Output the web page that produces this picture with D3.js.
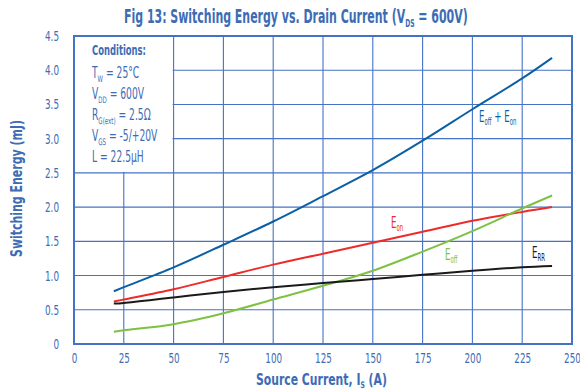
<!DOCTYPE html>
<html>
<head>
<script src="https://d3js.org/d3.v7.min.js"></script>
<style>
  body { margin: 0; background: #fff; }
  text { font-family: "DejaVu Sans Condensed", "DejaVu Sans", sans-serif; }
</style>
</head>
<body>
<div id="chart"></div>
<script>
  // source current (A)
  let current = [20, 25, 50, 75, 100, 125, 150, 175, 200, 225, 240];
  let eTotal = [0.77, 0.83, 1.12, 1.45, 1.79, 2.16, 2.54, 2.97, 3.43, 3.88, 4.18];
  let eOn = [0.62, 0.65, 0.80, 0.98, 1.16, 1.32, 1.48, 1.64, 1.80, 1.93, 2.00];
  let eOff = [0.18, 0.20, 0.29, 0.45, 0.65, 0.85, 1.07, 1.35, 1.65, 1.98, 2.17];
  let eRR = [0.59, 0.60, 0.68, 0.76, 0.83, 0.89, 0.95, 1.01, 1.07, 1.12, 1.14];
  let xTicks = [0, 25, 50, 75, 100, 125, 150, 175, 200, 225, 250];
  let yTicks = [0, 0.5, 1.0, 1.5, 2.0, 2.5, 3.0, 3.5, 4.0, 4.5];
  let conditions = [
    ["T", "W", " = 25°C"],
    ["V", "DD", " = 600V"],
    ["R", "G(ext)", " = 2.5Ω"],
    ["V", "GS", " = -5/+20V"],
    ["L", "", " = 22.5µH"]
  ];

  let width = 580, height = 392;
  let mLeft = 74, mRight = 572, mTop = 36, mBottom = 344;
  let blue = "#4472c4", textBlue = "#3d6cb5";
  let narrow = 0.7;   // reference font is much narrower than DejaVu Condensed

  let x = d3.scaleLinear().domain([0, 250]).range([mLeft, mRight]);
  let y = d3.scaleLinear().domain([0, 4.5]).range([mBottom, mTop]);

  let svg = d3.select("#chart").append("svg")
    .attr("width", width)
    .attr("height", height);

  // text with subscripts, squeezed horizontally
  function richText(parent, px, py, parts, opts) {
    let t = parent.append("text")
      .attr("fill", opts.color || textBlue)
      .attr("font-size", opts.size)
      .attr("font-weight", opts.bold ? "bold" : "normal")
      .attr("text-anchor", opts.anchor || "start");
    let shift = 0;
    parts.forEach(p => {
      if (p.sub) {
        t.append("tspan").attr("font-size", opts.subSize).attr("dy", opts.subShift - shift).text(p.sub);
        shift = opts.subShift;
      } else {
        let s = t.append("tspan").text(p.t);
        if (shift) s.attr("dy", -shift);
        shift = 0;
      }
    });
    let sx = opts.fit ? opts.fit / t.node().getBBox().width : (opts.sx || narrow);
    t.attr("transform", `translate(${px},${py})${opts.rotate ? " rotate(-90)" : ""} scale(${sx},1)`);
    return t;
  }

  // grid
  svg.append("g")
    .selectAll("line")
    .data(xTicks.slice(1, -1))
    .join("line")
    .attr("x1", d => x(d)).attr("x2", d => x(d))
    .attr("y1", mTop).attr("y2", mBottom)
    .attr("stroke", blue).attr("stroke-width", 1.1);
  svg.append("g")
    .selectAll("line")
    .data(yTicks.slice(1, -1))
    .join("line")
    .attr("x1", mLeft).attr("x2", mRight)
    .attr("y1", d => y(d)).attr("y2", d => y(d))
    .attr("stroke", blue).attr("stroke-width", 1.1);

  // conditions box covers the grid in the corner
  svg.append("rect")
    .attr("x", mLeft)
    .attr("y", mTop)
    .attr("width", x(50) - mLeft - 1)
    .attr("height", y(2.5) - mTop - 1)
    .attr("fill", "#fff");

  svg.append("rect")
    .attr("x", mLeft).attr("y", mTop)
    .attr("width", mRight - mLeft).attr("height", mBottom - mTop)
    .attr("fill", "none").attr("stroke", blue).attr("stroke-width", 2);

  // axes
  svg.append("g")
    .attr("transform", `translate(0,${mBottom})`)
    .call(d3.axisBottom(x).tickValues(xTicks).tickSize(0).tickPadding(9))
    .call(g => g.select(".domain").remove())
    .selectAll("text")
    .attr("fill", textBlue).attr("font-size", 14)
    .attr("transform", `scale(${narrow},1)`);

  svg.append("g")
    .attr("transform", `translate(${mLeft - 15},0)`)
    .call(d3.axisLeft(y).tickValues(yTicks).tickSize(0).tickPadding(0)
      .tickFormat(d => d === 0 ? "0" : d3.format(".1f")(d)))
    .call(g => g.select(".domain").remove())
    .selectAll("text")
    .attr("fill", textBlue).attr("font-size", 14)
    .attr("transform", `scale(${narrow},1)`);

  // titles
  richText(svg, 124, 23,
    [{ t: "Fig 13: Switching Energy vs. Drain Current (V" }, { sub: "DS" }, { t: " = 600V)" }],
    { size: 20, bold: true, subSize: 11, subShift: 4, fit: 344 });

  richText(svg, 256, 385,
    [{ t: "Source Current, I" }, { sub: "S" }, { t: " (A)" }],
    { size: 16, bold: true, subSize: 9, subShift: 3, fit: 131 });

  richText(svg, 22, 257,
    [{ t: "Switching Energy (mJ)" }],
    { size: 16, bold: true, rotate: true, fit: 137 });

  // conditions
  richText(svg, 92, 55, [{ t: "Conditions:" }], { size: 14, bold: true, fit: 54 });
  conditions.forEach((c, i) => {
    let parts = [{ t: c[0] }];
    if (c[1]) parts.push({ sub: c[1] });
    parts.push({ t: c[2] });
    richText(svg, 92, 78 + i * 21, parts, { size: 15, subSize: 9, subShift: 4, sx: 0.68 });
  });

  // curves
  let series = [
    { name: "Eoff+Eon", values: eTotal, color: "#0b5fa5" },
    { name: "Eon", values: eOn, color: "#ee2b2b" },
    { name: "Eoff", values: eOff, color: "#7dc242" },
    { name: "ERR", values: eRR, color: "#1a1a1a" }
  ];
  let line = d3.line()
    .curve(d3.curveCatmullRom.alpha(0.5))
    .x((d, i) => x(current[i]))
    .y(d => y(d));
  svg.append("g")
    .selectAll("path")
    .data(series)
    .join("path")
    .attr("fill", "none")
    .attr("stroke", d => d.color)
    .attr("stroke-width", 2)
    .attr("d", d => line(d.values));

  // curve labels
  let lab = { size: 16, subSize: 10, subShift: 3, sx: 0.6 };
  richText(svg, 479, 122, [{ t: "E" }, { sub: "off" }, { t: " + E" }, { sub: "on" }],
    Object.assign({ color: "#0b5fa5" }, lab));
  richText(svg, 391, 228, [{ t: "E" }, { sub: "on" }], Object.assign({ color: "#ee2b2b" }, lab));
  richText(svg, 445, 260, [{ t: "E" }, { sub: "off" }], Object.assign({ color: "#7dc242" }, lab));
  richText(svg, 532, 258, [{ t: "E" }, { sub: "RR" }], Object.assign({ color: "#1a1a1a" }, lab));
</script>
</body>
</html>
